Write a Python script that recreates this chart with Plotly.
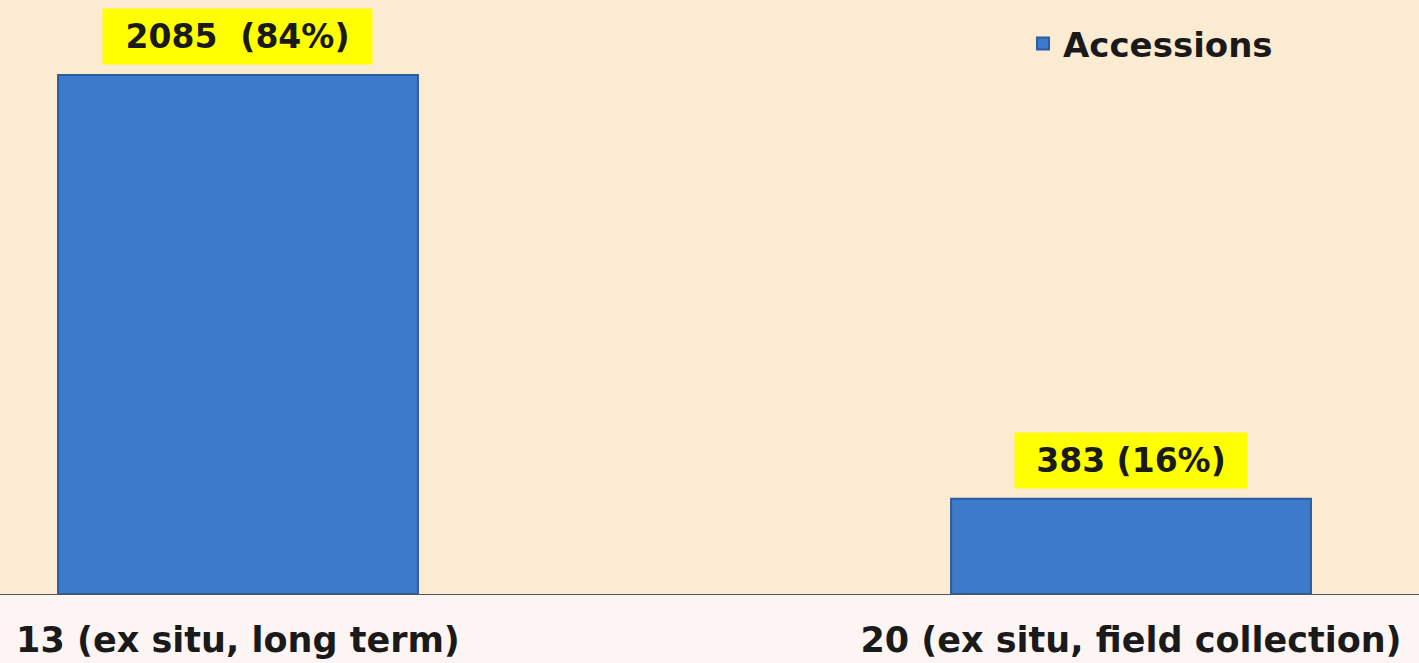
import plotly.graph_objects as go

categories = ["13 (ex situ, long term)", "20 (ex situ, field collection)"]
accessions = [2085, 383]
value_labels = ["2085  (84%)", "383 (16%)"]
series_name = "Accessions"

FONT = "DejaVu Sans"

fig = go.Figure()
fig.add_trace(go.Bar(
    x=categories,
    y=accessions,
    name=series_name,
    width=0.403,
    marker=dict(color="#3D7ACB", line=dict(color="#2A5C9F", width=2)),
    showlegend=True,
))

box_widths = [253, 216]
for cat, val, lab, w in zip(categories, accessions, value_labels, box_widths):
    fig.add_annotation(
        x=cat, y=val, text=lab, showarrow=False,
        xanchor="center", yanchor="bottom", yshift=10,
        bgcolor="#FFFF00", borderpad=8, width=w,
        font=dict(family=FONT, size=33, color="#1a1a1a", weight=700),
    )

fig.update_layout(
    width=1419, height=663,
    margin=dict(l=0, r=0, t=0, b=69),
    plot_bgcolor="#FCEBD3",
    paper_bgcolor="#FCF5F3",
    font=dict(family=FONT, color="#1a1a1a"),
    legend=dict(
        x=1023 / 1419, y=0.975, xanchor="left", yanchor="top",
        bgcolor="rgba(0,0,0,0)",
        font=dict(family=FONT, size=34, color="#1a1a1a", weight=700),
    ),
    xaxis=dict(
        range=[-0.2665, 1.3225],
        showline=True, linecolor="#555555", linewidth=1,
        showgrid=False, zeroline=False,
        tickfont=dict(family=FONT, size=35, color="#1a1a1a", weight=700),
        ticks="", ticklabelstandoff=15,
    ),
    yaxis=dict(
        range=[0, 2386],
        showgrid=False, zeroline=False, showticklabels=False,
        showline=False,
    ),
)

fig.write_html("out.html", config={"displayModeBar": False},
               post_script="document.body.style.margin='0';")
